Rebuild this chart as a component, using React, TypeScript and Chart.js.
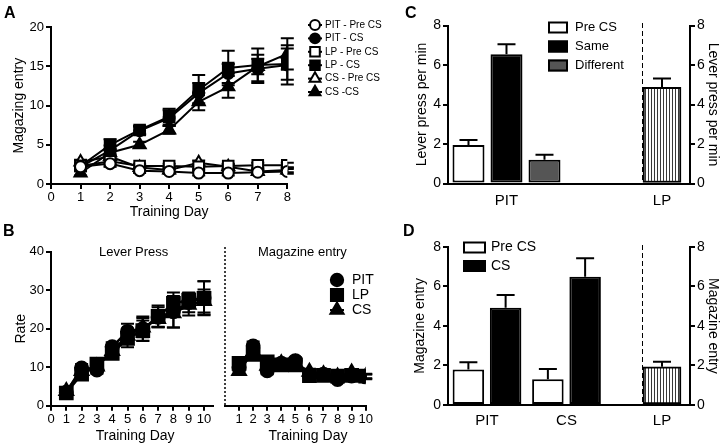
import React, { useEffect, useRef } from 'react';
import { Chart, registerables } from 'chart.js';

Chart.register(...registerables);

const FONT = "'Liberation Sans', Arial, Helvetica, sans-serif";
Chart.defaults.font.family = FONT;
Chart.defaults.color = '#000';

// ---------------- Panel A data ----------------
const A_DAYS = [1, 2, 3, 4, 5, 6, 7, 8];
const A_PIT_PRE = [2.2, 2.6, 1.7, 1.6, 1.4, 1.4, 1.5, 1.6];
const A_PIT_PRE_ERR = [0.3, 0.4, 0.3, 0.3, 0.3, 0.3, 0.3, 0.3];
const A_PIT_CS = [2.2, 4.3, 6.8, 8.4, 11.6, 14.1, 14.7, 15.2];
const A_PIT_CS_ERR = [0.3, 0.6, 0.5, 1.0, 1.3, 1.2, 1.8, 2.5];
const A_LP_PRE = [2.3, 2.9, 2.3, 2.3, 2.2, 2.3, 2.4, 2.4];
const A_LP_PRE_ERR = [0.3, 0.4, 0.3, 0.3, 0.3, 0.3, 0.3, 0.3];
const A_LP_CS = [2.3, 5.0, 6.9, 8.6, 12.0, 14.8, 15.2, 15.3];
const A_LP_CS_ERR = [0.3, 0.7, 0.5, 1.0, 1.9, 2.2, 2.1, 2.0];
const A_CS_PRE = [2.8, 3.5, 2.1, 1.8, 2.7, 2.2, 1.6, 1.8];
const A_CS_PRE_ERR = [0.3, 0.4, 0.3, 0.3, 0.3, 0.3, 0.3, 0.3];
const A_CS_CS = [1.4, 4.0, 5.0, 6.9, 10.5, 12.4, 15.0, 16.6];
const A_CS_CS_ERR = [0.3, 0.5, 0.4, 0.5, 1.1, 1.4, 1.0, 2.0];

// ---------------- Panel B data ----------------
const B_DAYS = [1, 2, 3, 4, 5, 6, 7, 8, 9, 10];
const B_LP_PIT = [3.5, 9.8, 9.3, 15.3, 19.3, 20.0, 23.0, 24.4, 26.8, 28.0];
const B_LP_PIT_ERR = [0.6, 1.0, 1.0, 1.2, 2.0, 3.2, 2.6, 4.1, 2.5, 4.3];
const B_LP_LP = [3.3, 8.2, 10.8, 13.6, 17.5, 19.5, 23.2, 26.6, 27.4, 27.9];
const B_LP_LP_ERR = [0.6, 1.0, 1.0, 1.3, 2.3, 2.6, 2.8, 2.8, 2.0, 4.4];
const B_LP_CS = [3.8, 9.0, 10.2, 14.2, 18.2, 20.3, 22.5, 24.0, 26.2, 27.2];
const B_LP_CS_ERR = [0.6, 1.0, 1.0, 1.2, 1.8, 2.5, 2.0, 3.7, 2.8, 3.0];
const B_ME_PIT = [10.0, 15.5, 9.1, 11.0, 11.7, 8.0, 8.2, 6.8, 7.7, 7.5];
const B_ME_PIT_ERR = [1.0, 1.2, 0.9, 0.8, 0.9, 0.8, 0.7, 0.7, 0.7, 0.6];
const B_ME_LP = [11.0, 13.3, 11.4, 10.6, 10.6, 7.8, 7.9, 7.7, 7.9, 7.7];
const B_ME_LP_ERR = [1.1, 1.0, 1.0, 0.8, 0.8, 0.7, 0.7, 0.6, 0.7, 0.6];
const B_ME_CS = [9.0, 14.0, 10.4, 11.0, 11.0, 8.8, 8.2, 7.6, 8.6, 7.6];
const B_ME_CS_ERR = [0.9, 1.1, 1.0, 0.8, 0.9, 0.8, 0.7, 0.7, 0.8, 0.6];

// ---------------- Panel C data ----------------
const C_GROUPS = ['PIT'];
const C_PRE = [1.95];
const C_PRE_ERR = [0.25];
const C_SAME = [6.55];
const C_SAME_ERR = [0.5];
const C_DIFF = [1.2];
const C_DIFF_ERR = [0.25];
const C_LP_GROUPS = ['LP'];
const C_LP = [4.87];
const C_LP_ERR = [0.45];

// ---------------- Panel D data ----------------
const D_GROUPS = ['PIT', 'CS'];
const D_PRE = [1.8, 1.3];
const D_PRE_ERR = [0.36, 0.52];
const D_CS = [4.92, 6.48];
const D_CS_ERR = [0.64, 0.94];
const D_LP_GROUPS = ['LP'];
const D_LP = [1.93];
const D_LP_ERR = [0.26];

// ---------------- layout boxes ----------------
type Box = { x: number; y: number; w: number; h: number };
const A_BOX: Box = { x: 0, y: 14, w: 385, h: 212 };
const BL_BOX: Box = { x: 0, y: 238, w: 230, h: 206 };
const BR_BOX: Box = { x: 214, y: 238, w: 166, h: 206 };
const CL_BOX: Box = { x: 380, y: 8, w: 262, h: 218 };
const CR_BOX: Box = { x: 642, y: 8, w: 78, h: 218 };
const DL_BOX: Box = { x: 380, y: 230, w: 262, h: 214 };
const DR_BOX: Box = { x: 642, y: 230, w: 78, h: 214 };

// ---------------- helpers ----------------
function drawMarker(ctx: CanvasRenderingContext2D, style: string, x: number, y: number, r: number, fill: string) {
  ctx.beginPath();
  if (style === 'rect') {
    const s = r * Math.SQRT1_2;
    ctx.rect(x - s, y - s, 2 * s, 2 * s);
  } else if (style === 'triangle') {
    ctx.moveTo(x, y - r);
    ctx.lineTo(x + r * 0.866, y + r * 0.5);
    ctx.lineTo(x - r * 0.866, y + r * 0.5);
    ctx.closePath();
  } else {
    ctx.arc(x, y, r, 0, Math.PI * 2);
  }
  ctx.fillStyle = fill;
  ctx.fill();
  ctx.lineWidth = 2;
  ctx.strokeStyle = '#000';
  ctx.stroke();
}

function errorBars(o: { both: boolean; cap: number; width: number }) {
  return {
    id: 'errorBars',
    beforeDatasetsDraw(chart: any) {
      const ctx = chart.ctx;
      const ys = chart.scales.y;
      ctx.save();
      ctx.strokeStyle = '#000';
      ctx.lineWidth = o.width;
      ctx.setLineDash([]);
      chart.data.datasets.forEach((ds: any, i: number) => {
        if (!ds.errors) return;
        const meta = chart.getDatasetMeta(i);
        meta.data.forEach((el: any, j: number) => {
          const raw = ds.data[j];
          const v = typeof raw === 'number' ? raw : raw && raw.y;
          if (v == null) return;
          const e = ds.errors[j];
          const x = el.x;
          const yTop = ys.getPixelForValue(v + e);
          const yBot = o.both ? ys.getPixelForValue(v - e) : el.y;
          ctx.beginPath();
          ctx.moveTo(x, yBot);
          ctx.lineTo(x, yTop);
          ctx.moveTo(x - o.cap / 2, yTop);
          ctx.lineTo(x + o.cap / 2, yTop);
          if (o.both) {
            ctx.moveTo(x - o.cap / 2, yBot);
            ctx.lineTo(x + o.cap / 2, yBot);
          }
          ctx.stroke();
        });
      });
      ctx.restore();
    },
  };
}

function lineLegend(box: Box, o: { mx: number; half: number; tx: number; y0: number; dy: number; size: number; rScale: number }) {
  return {
    id: 'lineLegend',
    afterDraw(chart: any) {
      const ctx = chart.ctx;
      ctx.save();
      chart.data.datasets.forEach((ds: any, i: number) => {
        const y = o.y0 + i * o.dy - box.y;
        const mx = o.mx - box.x;
        ctx.strokeStyle = '#000';
        ctx.lineWidth = 2;
        ctx.beginPath();
        ctx.moveTo(mx - o.half, y);
        ctx.lineTo(mx + o.half, y);
        ctx.stroke();
        drawMarker(ctx, ds.pointStyle, mx, y, ds.pointRadius * o.rScale, ds.pointBackgroundColor);
        ctx.fillStyle = '#000';
        ctx.font = `${o.size}px ${FONT}`;
        ctx.textBaseline = 'middle';
        ctx.textAlign = 'left';
        ctx.fillText(ds.label, o.tx - box.x, y);
      });
      ctx.restore();
    },
  };
}

function boxLegend(box: Box, o: { bx: number; bw: number; bh: number; tx: number; y0: number; dy: number; size: number }) {
  return {
    id: 'boxLegend',
    afterDraw(chart: any) {
      const ctx = chart.ctx;
      ctx.save();
      chart.data.datasets.forEach((ds: any, i: number) => {
        const cy = o.y0 + i * o.dy - box.y;
        const bx = o.bx - box.x;
        ctx.fillStyle = ds.backgroundColor;
        ctx.fillRect(bx, cy - o.bh / 2, o.bw, o.bh);
        ctx.strokeStyle = '#000';
        ctx.lineWidth = 2;
        ctx.strokeRect(bx + 1, cy - o.bh / 2 + 1, o.bw - 2, o.bh - 2);
        ctx.fillStyle = '#000';
        ctx.font = `${o.size}px ${FONT}`;
        ctx.textBaseline = 'middle';
        ctx.textAlign = 'left';
        ctx.fillText(ds.label, o.tx - box.x, cy);
      });
      ctx.restore();
    },
  };
}

type VLine = { edge?: boolean; x?: number; top: number; dash: number[]; width: number };
type TextItem = { x: number; py: number; text: string; size: number };
function annot(box: Box, o: { vlines?: VLine[]; texts?: TextItem[] }) {
  return {
    id: 'annot',
    afterDraw(chart: any) {
      const ctx = chart.ctx;
      const { chartArea, scales } = chart;
      ctx.save();
      (o.vlines || []).forEach((v) => {
        const x = v.edge ? chartArea.left : scales.x.getPixelForValue(v.x);
        ctx.strokeStyle = '#000';
        ctx.lineWidth = v.width;
        ctx.setLineDash(v.dash);
        ctx.beginPath();
        ctx.moveTo(x, v.top - box.y);
        ctx.lineTo(x, chartArea.bottom);
        ctx.stroke();
      });
      ctx.setLineDash([]);
      (o.texts || []).forEach((t) => {
        ctx.fillStyle = '#000';
        ctx.font = `${t.size}px ${FONT}`;
        ctx.textAlign = 'center';
        ctx.textBaseline = 'middle';
        ctx.fillText(t.text, scales.x.getPixelForValue(t.x), t.py - box.y);
      });
      ctx.restore();
    },
  };
}

function axisLines(tickLen: number, drawTicks = true) {
  return {
    border: { display: true, color: '#000', width: 2 },
    grid: {
      display: drawTicks,
      drawOnChartArea: false,
      drawTicks,
      tickLength: tickLen,
      color: '#000',
      lineWidth: 2,
    },
  };
}

function lineDs(label: string, days: number[], values: number[], errors: number[], style: string, radius: number, filled: boolean, lw: number) {
  return {
    label,
    data: days.map((d, i) => ({ x: d, y: values[i] })),
    errors,
    borderColor: '#000',
    borderWidth: lw,
    pointStyle: style,
    pointRadius: radius,
    pointHoverRadius: radius,
    pointBackgroundColor: filled ? '#000' : '#fff',
    pointBorderColor: '#000',
    pointBorderWidth: 2,
    tension: 0,
    fill: false,
  };
}

function barDs(label: string, values: number[], errors: number[], bg: any, extra: any = {}) {
  return {
    label,
    data: values.map((v, i) => ({ x: i, y: v })),
    errors,
    backgroundColor: bg,
    borderColor: '#000',
    borderWidth: 2,
    borderSkipped: false,
    ...extra,
  };
}

function hatchPattern(): CanvasPattern | string {
  const c = document.createElement('canvas');
  c.width = 3;
  c.height = 4;
  const g = c.getContext('2d');
  if (!g) return '#aaa';
  g.fillStyle = '#fff';
  g.fillRect(0, 0, 3, 4);
  g.fillStyle = '#3a3a3a';
  g.fillRect(0, 0, 1, 4);
  return g.createPattern(c, 'repeat') || '#aaa';
}

const baseOptions = {
  responsive: false,
  maintainAspectRatio: false,
  animation: false,
  events: [],
};
const noPlugins = { legend: { display: false }, tooltip: { enabled: false } };

// ---------------- chart configs ----------------
function configA(): any {
  return {
    type: 'line',
    data: {
      datasets: [
        lineDs('PIT - Pre CS', A_DAYS, A_PIT_PRE, A_PIT_PRE_ERR, 'circle', 5.5, false, 2),
        lineDs('PIT - CS', A_DAYS, A_PIT_CS, A_PIT_CS_ERR, 'circle', 5.5, true, 2),
        lineDs('LP - Pre CS', A_DAYS, A_LP_PRE, A_LP_PRE_ERR, 'rect', 7.5, false, 2),
        lineDs('LP - CS', A_DAYS, A_LP_CS, A_LP_CS_ERR, 'rect', 7.5, true, 2),
        lineDs('CS - Pre CS', A_DAYS, A_CS_PRE, A_CS_PRE_ERR, 'triangle', 7, false, 2),
        lineDs('CS -CS', A_DAYS, A_CS_CS, A_CS_CS_ERR, 'triangle', 7, true, 2),
      ],
    },
    options: {
      ...baseOptions,
      layout: { padding: { top: 13.3, right: 97.7, left: 0, bottom: 0 } },
      plugins: noPlugins,
      scales: {
        x: {
          type: 'linear', min: 0, max: 8,
          ...axisLines(5),
          ticks: { stepSize: 1, font: { size: 13 }, padding: 1, maxRotation: 0, color: '#000' },
          title: { display: true, text: 'Training Day', font: { size: 14 }, color: '#000', padding: { top: 0, bottom: 5 } },
          afterFit: (s: any) => { s.height = 42; },
        },
        y: {
          type: 'linear', min: 0, max: 20,
          ...axisLines(5),
          ticks: { stepSize: 5, font: { size: 13 }, padding: 2, color: '#000' },
          title: { display: true, text: 'Magazing entry', font: { size: 14 }, color: '#000', padding: { top: 10.6, bottom: 0 } },
          afterFit: (s: any) => { s.width = 51; },
        },
      },
    },
    plugins: [
      errorBars({ both: true, cap: 13, width: 2 }),
      lineLegend(A_BOX, { mx: 315, half: 7, tx: 325, y0: 25, dy: 13.4, size: 10, rScale: 0.9 }),
    ],
  };
}

function configBL(): any {
  return {
    type: 'line',
    data: {
      datasets: [
        lineDs('PIT', B_DAYS, B_LP_PIT, B_LP_PIT_ERR, 'circle', 6.5, true, 2.5),
        lineDs('LP', B_DAYS, B_LP_LP, B_LP_LP_ERR, 'rect', 9, true, 2.5),
        lineDs('CS', B_DAYS, B_LP_CS, B_LP_CS_ERR, 'triangle', 8, true, 2.5),
      ],
    },
    options: {
      ...baseOptions,
      layout: { padding: { top: 13.7, right: 16.8, left: 0, bottom: 0 } },
      plugins: noPlugins,
      scales: {
        x: {
          type: 'linear', min: 0, max: 10.6,
          ...axisLines(5),
          ticks: { stepSize: 1, includeBounds: false, font: { size: 13 }, padding: 1, maxRotation: 0, autoSkip: false, color: '#000' },
          title: { display: false },
          afterFit: (s: any) => { s.height = 38.3; },
        },
        y: {
          type: 'linear', min: 0, max: 40,
          ...axisLines(5),
          ticks: { stepSize: 10, font: { size: 13 }, padding: 2, color: '#000' },
          title: { display: true, text: 'Rate', font: { size: 14 }, color: '#000', padding: { top: 13, bottom: 0 } },
          afterFit: (s: any) => { s.width = 51; },
        },
      },
    },
    plugins: [
      errorBars({ both: true, cap: 13, width: 2 }),
      annot(BL_BOX, {
        texts: [
          { x: 5.4, py: 252, text: 'Lever Press', size: 13 },
          { x: 5.5, py: 436, text: 'Training Day', size: 14 },
        ],
      }),
    ],
  };
}

function configBR(): any {
  return {
    type: 'line',
    data: {
      datasets: [
        lineDs('PIT', B_DAYS, B_ME_PIT, B_ME_PIT_ERR, 'circle', 6.5, true, 2.5),
        lineDs('LP', B_DAYS, B_ME_LP, B_ME_LP_ERR, 'rect', 9, true, 2.5),
        lineDs('CS', B_DAYS, B_ME_CS, B_ME_CS_ERR, 'triangle', 8, true, 2.5),
      ],
    },
    options: {
      ...baseOptions,
      layout: { padding: { top: 13.7, right: 14.3, left: 6.5, bottom: 0 } },
      plugins: noPlugins,
      scales: {
        x: {
          type: 'linear', min: 0, max: 10,
          ...axisLines(5),
          ticks: { stepSize: 1, font: { size: 13 }, padding: 1, maxRotation: 0, autoSkip: false, color: '#000' },
          afterBuildTicks: (s: any) => { s.ticks = s.ticks.filter((t: any) => t.value !== 0); },
          title: { display: false },
          afterFit: (s: any) => { s.height = 38.3; },
        },
        y: { type: 'linear', min: 0, max: 40, display: false },
      },
    },
    plugins: [
      errorBars({ both: true, cap: 13, width: 2 }),
      annot(BR_BOX, {
        vlines: [{ x: 0, top: 247, dash: [2, 2], width: 1.5 }],
        texts: [
          { x: 5.5, py: 252, text: 'Magazine entry', size: 13 },
          { x: 5.9, py: 436, text: 'Training Day', size: 14 },
        ],
      }),
      lineLegend(BR_BOX, { mx: 337, half: 7, tx: 352, y0: 280, dy: 15, size: 14, rScale: 0.95 }),
    ],
  };
}

function catAxis(groups: string[], min: number, max: number, padding: number, height: number) {
  return {
    type: 'linear', min, max, offset: false,
    ...axisLines(0, false),
    ticks: {
      font: { size: 15 }, padding, maxRotation: 0, autoSkip: false, color: '#000',
      callback: (v: any) => groups[Math.round(Number(v))] ?? '',
    },
    afterBuildTicks: (s: any) => { s.ticks = groups.map((_, i) => ({ value: i })); },
    afterFit: (s: any) => { s.height = height; },
  };
}

function valAxis(title: string, position: string, width: number, titlePad: number, lineHeight: number) {
  return {
    type: 'linear', min: 0, max: 8, position,
    ...axisLines(5),
    ticks: { stepSize: 2, font: { size: 14 }, padding: 2, color: '#000' },
    title: { display: true, text: title, font: { size: 14, lineHeight }, color: '#000', padding: { top: titlePad, bottom: 0 } },
    afterFit: (s: any) => { s.width = width; },
  };
}

function configCL(): any {
  const bar = { categoryPercentage: 0.5876, barPercentage: 0.842 };
  return {
    type: 'bar',
    data: {
      datasets: [
        barDs('Pre CS', C_PRE, C_PRE_ERR, '#ffffff', bar),
        barDs('Same', C_SAME, C_SAME_ERR, '#000000', bar),
        barDs('Different', C_DIFF, C_DIFF_ERR, '#555555', bar),
      ],
    },
    options: {
      ...baseOptions,
      layout: { padding: { top: 17.5, right: 0, left: 0, bottom: 0 } },
      plugins: noPlugins,
      scales: {
        x: catAxis(C_GROUPS, -0.3015, 0.6985, 8, 42.5),
        y: valAxis('Lever press per min', 'left', 68, 33.3, 1.2),
      },
    },
    plugins: [
      errorBars({ both: false, cap: 18, width: 2 }),
      boxLegend(CL_BOX, { bx: 548, bw: 20, bh: 12, tx: 575, y0: 27.5, dy: 19, size: 13 }),
    ],
  };
}

function configCR(): any {
  return {
    type: 'bar',
    data: {
      datasets: [barDs('LP', C_LP, C_LP_ERR, hatchPattern(), { barThickness: 38 })],
    },
    options: {
      ...baseOptions,
      layout: { padding: { top: 17.5, right: 0, left: 0, bottom: 0 } },
      plugins: noPlugins,
      scales: {
        x: catAxis(C_LP_GROUPS, -0.4167, 0.5833, 8, 42.5),
        y: valAxis('Lever press per min', 'right', 30, 0, 1),
      },
    },
    plugins: [
      errorBars({ both: false, cap: 18, width: 2 }),
      annot(CR_BOX, { vlines: [{ edge: true, top: 23, dash: [5, 3], width: 2 }] }),
    ],
  };
}

function configDL(): any {
  const bar = { categoryPercentage: 0.937, barPercentage: 0.846 };
  return {
    type: 'bar',
    data: {
      datasets: [
        barDs('Pre CS', D_PRE, D_PRE_ERR, '#ffffff', bar),
        barDs('CS', D_CS, D_CS_ERR, '#000000', bar),
      ],
    },
    options: {
      ...baseOptions,
      layout: { padding: { top: 16.7, right: 0, left: 0, bottom: 0 } },
      plugins: noPlugins,
      scales: {
        x: catAxis(D_GROUPS, -0.4906, 1.9497, 7, 39),
        y: valAxis('Magazine entry', 'left', 68, 31.6, 1.2),
      },
    },
    plugins: [
      errorBars({ both: false, cap: 18, width: 2 }),
      boxLegend(DL_BOX, { bx: 463, bw: 23, bh: 12, tx: 491, y0: 247.5, dy: 18.5, size: 14 }),
    ],
  };
}

function configDR(): any {
  return {
    type: 'bar',
    data: {
      datasets: [barDs('LP', D_LP, D_LP_ERR, hatchPattern(), { barThickness: 38 })],
    },
    options: {
      ...baseOptions,
      layout: { padding: { top: 16.7, right: 0, left: 0, bottom: 0 } },
      plugins: noPlugins,
      scales: {
        x: catAxis(D_LP_GROUPS, -0.4167, 0.5833, 7, 39),
        y: valAxis('Magazine entry', 'right', 30, 0, 1),
      },
    },
    plugins: [
      errorBars({ both: false, cap: 18, width: 2 }),
      annot(DR_BOX, { vlines: [{ edge: true, top: 245, dash: [5, 3], width: 2 }] }),
    ],
  };
}

// ---------------- components ----------------
function ChartCanvas({ box, build }: { box: Box; build: () => any }) {
  const ref = useRef<HTMLCanvasElement | null>(null);
  useEffect(() => {
    if (!ref.current) return;
    const chart = new Chart(ref.current, build());
    return () => chart.destroy();
  }, []);
  return (
    <canvas
      ref={ref}
      width={box.w}
      height={box.h}
      style={{ position: 'absolute', left: box.x, top: box.y, width: box.w, height: box.h }}
    />
  );
}

function Letter({ x, y, text }: { x: number; y: number; text: string }) {
  return (
    <div
      style={{
        position: 'absolute', left: x, top: y, fontFamily: FONT, fontWeight: 'bold',
        fontSize: 16, lineHeight: '16px', color: '#000',
      }}
    >
      {text}
    </div>
  );
}

export default function App() {
  return (
    <div
      style={{
        position: 'absolute', left: 0, top: 0, width: 720, height: 444,
        background: '#fff', overflow: 'hidden',
      }}
    >
      <ChartCanvas box={A_BOX} build={configA} />
      <ChartCanvas box={BL_BOX} build={configBL} />
      <ChartCanvas box={BR_BOX} build={configBR} />
      <ChartCanvas box={CL_BOX} build={configCL} />
      <ChartCanvas box={CR_BOX} build={configCR} />
      <ChartCanvas box={DL_BOX} build={configDL} />
      <ChartCanvas box={DR_BOX} build={configDR} />
      <Letter x={4} y={5} text="A" />
      <Letter x={3} y={223} text="B" />
      <Letter x={405} y={5} text="C" />
      <Letter x={403} y={223} text="D" />
    </div>
  );
}
